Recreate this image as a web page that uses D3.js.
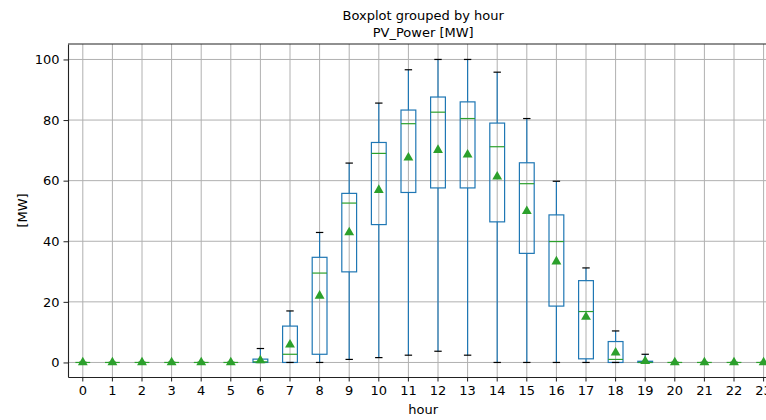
<!DOCTYPE html>
<html>
<head>
<meta charset="utf-8">
<script src="https://cdn.jsdelivr.net/npm/d3@7"></script>
<style>
  body { margin: 0; background: #fff; }
  text { font-family: "DejaVu Sans", sans-serif; fill: #000; }
</style>
</head>
<body>
<div id="chart"></div>
<script>
const hours = d3.range(24).map(String);
// per hour: whisker low, q1, median, q3, whisker high, mean
const whiskerLow = [0, 0, 0, 0, 0, 0, 0, 0, 0, 1.0, 1.6, 2.4, 3.7, 2.4, 0, 0, 0, 0, 0, 0, 0, 0, 0, 0];
const q1 = [0, 0, 0, 0, 0, 0, 0, 0, 2.7, 29.9, 45.5, 56.1, 57.6, 57.6, 46.4, 36.0, 18.6, 1.2, 0, 0, 0, 0, 0, 0];
const medians = [0, 0, 0, 0, 0, 0, 0.2, 2.7, 29.5, 52.6, 69.0, 78.8, 82.6, 80.5, 71.2, 59.0, 39.9, 16.8, 1.0, 0, 0, 0, 0, 0];
const q3 = [0, 0, 0, 0, 0, 0, 1.1, 12.0, 34.7, 55.8, 72.6, 83.3, 87.6, 86.0, 79.0, 65.9, 48.7, 27.0, 6.9, 0.4, 0, 0, 0, 0];
const whiskerHigh = [0, 0, 0, 0, 0, 0, 4.6, 17.0, 42.9, 65.8, 85.6, 96.6, 100, 100, 95.8, 80.5, 59.8, 31.2, 10.4, 2.7, 0, 0, 0, 0];
const means = [0, 0, 0, 0, 0, 0, 0.7, 5.9, 22.0, 42.9, 56.9, 67.6, 70.1, 68.6, 61.3, 49.9, 33.3, 15.0, 3.2, 0.4, 0, 0, 0, 0];
const yTicks = [0, 20, 40, 60, 80, 100];

const width = 766, height = 420;
const margin = { left: 68, top: 44, bottom: 377 };
const plotRight = 778.4;

const svg = d3.select("#chart").append("svg")
  .attr("width", width)
  .attr("height", height);

const x = d3.scaleBand().domain(hours).range([margin.left, plotRight]).paddingInner(0).paddingOuter(0);
const y = d3.scaleLinear().domain([-4.8, 105.1]).range([margin.bottom, margin.top]);
const cx = (h) => x(h) + x.bandwidth() / 2;
const boxWidth = x.bandwidth() * 0.5;
const capWidth = boxWidth * 0.5;

const boxColor = "#1f77b4";
const green = "#2ca02c";

const data = hours.map((h, i) => ({
  h, lo: whiskerLow[i], q1: q1[i], med: medians[i], q3: q3[i], hi: whiskerHigh[i], mean: means[i]
}));

// grid
svg.append("g")
  .selectAll("line")
  .data(hours)
  .join("line")
  .attr("x1", (d) => cx(d)).attr("x2", (d) => cx(d))
  .attr("y1", margin.top).attr("y2", margin.bottom)
  .attr("stroke", "#b0b0b0").attr("stroke-width", 1);
svg.append("g")
  .selectAll("line")
  .data(yTicks)
  .join("line")
  .attr("x1", margin.left).attr("x2", plotRight)
  .attr("y1", (d) => y(d)).attr("y2", (d) => y(d))
  .attr("stroke", "#b0b0b0").attr("stroke-width", 1);

const g = svg.append("g");

// boxes
g.selectAll("rect.box")
  .data(data)
  .join("rect")
  .attr("class", "box")
  .attr("x", (d) => cx(d.h) - boxWidth / 2)
  .attr("y", (d) => y(d.q3))
  .attr("width", boxWidth)
  .attr("height", (d) => y(d.q1) - y(d.q3))
  .attr("fill", "none")
  .attr("stroke", boxColor)
  .attr("stroke-width", 1.2);

// whiskers
g.selectAll("line.wlow")
  .data(data)
  .join("line")
  .attr("class", "wlow")
  .attr("x1", (d) => cx(d.h)).attr("x2", (d) => cx(d.h))
  .attr("y1", (d) => y(d.lo)).attr("y2", (d) => y(d.q1))
  .attr("stroke", boxColor).attr("stroke-width", 1.2);
g.selectAll("line.whigh")
  .data(data)
  .join("line")
  .attr("class", "whigh")
  .attr("x1", (d) => cx(d.h)).attr("x2", (d) => cx(d.h))
  .attr("y1", (d) => y(d.hi)).attr("y2", (d) => y(d.q3))
  .attr("stroke", boxColor).attr("stroke-width", 1.2);

// caps
["lo", "hi"].forEach((k) => {
  g.selectAll("line.cap" + k)
    .data(data)
    .join("line")
    .attr("class", "cap" + k)
    .attr("x1", (d) => cx(d.h) - capWidth / 2).attr("x2", (d) => cx(d.h) + capWidth / 2)
    .attr("y1", (d) => y(d[k])).attr("y2", (d) => y(d[k]))
    .attr("stroke", "#000").attr("stroke-width", 1.2);
});

// medians
g.selectAll("line.median")
  .data(data)
  .join("line")
  .attr("class", "median")
  .attr("x1", (d) => cx(d.h) - boxWidth / 2).attr("x2", (d) => cx(d.h) + boxWidth / 2)
  .attr("y1", (d) => y(d.med)).attr("y2", (d) => y(d.med))
  .attr("stroke", green).attr("stroke-width", 1.2);

// means
const tri = d3.symbol().type(d3.symbolTriangle).size(42);
g.selectAll("path.mean")
  .data(data)
  .join("path")
  .attr("class", "mean")
  .attr("d", tri)
  .attr("transform", (d) => `translate(${cx(d.h)},${y(d.mean)})`)
  .attr("fill", green);

// axes
const xAxis = svg.append("g")
  .attr("transform", `translate(0,${margin.bottom})`)
  .call(d3.axisBottom(x).tickSize(4.5).tickPadding(4).tickSizeOuter(0));
xAxis.select(".domain").attr("stroke", "#222").attr("stroke-width", 1.1);
xAxis.selectAll(".tick line").attr("stroke", "#222");
xAxis.selectAll(".tick text").style("font-size", "13px").style("font-family", "DejaVu Sans");

const yAxis = svg.append("g")
  .attr("transform", `translate(${margin.left},0)`)
  .call(d3.axisLeft(y).tickValues(yTicks).tickSize(4.5).tickPadding(4).tickSizeOuter(0));
yAxis.select(".domain").attr("stroke", "#222").attr("stroke-width", 1.1);
yAxis.selectAll(".tick line").attr("stroke", "#222");
yAxis.selectAll(".tick text").style("font-size", "13px").style("font-family", "DejaVu Sans");

// top spine
svg.append("line")
  .attr("x1", margin.left).attr("x2", plotRight)
  .attr("y1", margin.top).attr("y2", margin.top)
  .attr("stroke", "#222").attr("stroke-width", 1.1);

// titles and labels
const midX = (margin.left + plotRight) / 2;
svg.append("text").attr("x", midX).attr("y", 20).attr("text-anchor", "middle")
  .style("font-size", "13px").text("Boxplot grouped by hour");
svg.append("text").attr("x", midX).attr("y", 37).attr("text-anchor", "middle")
  .style("font-size", "13px").text("PV_Power [MW]");
svg.append("text").attr("x", midX).attr("y", 414).attr("text-anchor", "middle")
  .style("font-size", "13px").text("hour");
svg.append("text")
  .attr("transform", `translate(27,${(margin.top + margin.bottom) / 2}) rotate(-90)`)
  .attr("text-anchor", "middle")
  .style("font-size", "13px").text("[MW]");
</script>
</body>
</html>
